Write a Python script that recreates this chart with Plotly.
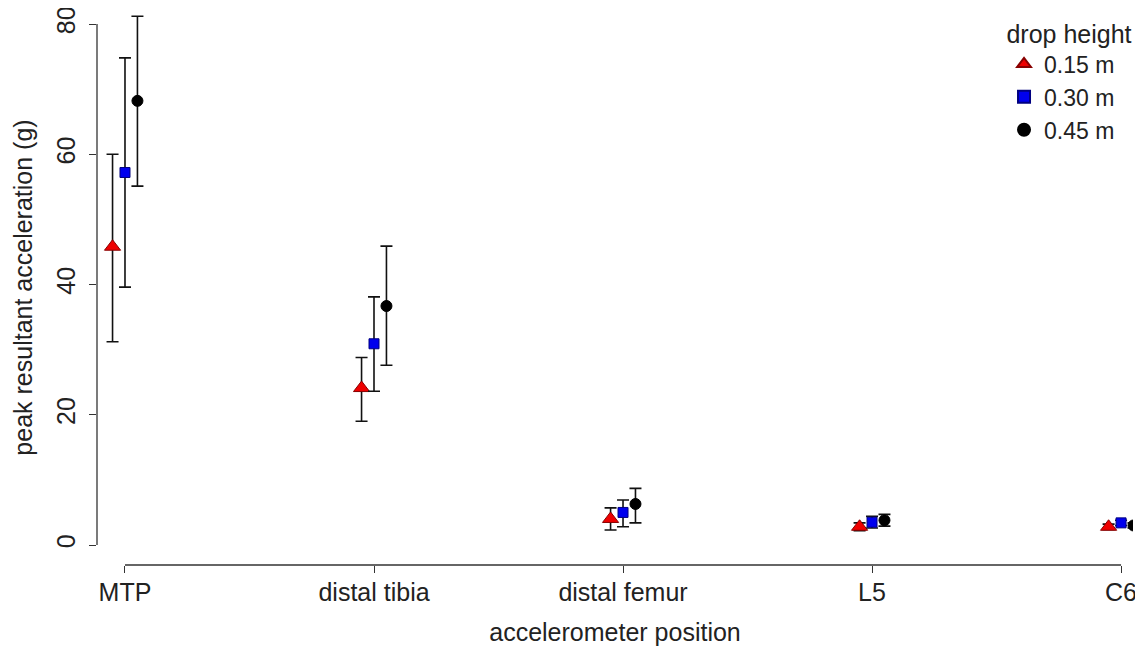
import plotly.graph_objects as go

positions = ["MTP", "distal tibia", "distal femur", "L5", "C6"]
heights = ["0.15 m", "0.30 m", "0.45 m"]

mean_015 = [45.8, 24.1, 4.0, 2.8, 2.8]
low_015 = [31.2, 19.0, 2.3, 2.2, 2.4]
high_015 = [60.0, 28.8, 5.7, 3.4, 3.2]

mean_030 = [57.2, 30.9, 5.0, 3.5, 3.4]
low_030 = [39.6, 23.6, 2.8, 2.6, 3.0]
high_030 = [74.8, 38.1, 6.9, 4.4, 3.8]

mean_045 = [68.2, 36.7, 6.3, 3.8, 3.0]
low_045 = [55.1, 27.6, 3.4, 2.9, 2.6]
high_045 = [81.2, 45.9, 8.7, 4.7, 3.4]

y_ticks = [0, 20, 40, 60, 80]

series = [
    (heights[0], mean_015, low_015, high_015, -0.05,
     dict(symbol="triangle-up", size=14, color="#ee0000", line=dict(color="#880000", width=1))),
    (heights[1], mean_030, low_030, high_030, 0.0,
     dict(symbol="square", size=10, color="#0000ee", line=dict(color="#000080", width=1))),
    (heights[2], mean_045, low_045, high_045, 0.05,
     dict(symbol="circle", size=11, color="#000000", line=dict(color="#000000", width=1))),
]

fig = go.Figure()
for name, m, lo, hi, off, mk in series:
    xs = [i + 1 + off for i in range(len(positions))]
    fig.add_trace(go.Scatter(
        x=xs, y=m, mode="markers", name=name, marker=mk,
        error_y=dict(type="data", symmetric=False,
                     array=[h - v for h, v in zip(hi, m)],
                     arrayminus=[v - l for v, l in zip(m, lo)],
                     color="#111111", thickness=1.6, width=6),
    ))

font = "Liberation Sans, Arial, Helvetica, sans-serif"
axcol = "#333333"
fs = 25

# detached R-style axis lines
fig.add_shape(type="line", xref="paper", yref="y", x0=0, x1=0, y0=0, y1=80,
              line=dict(color=axcol, width=1.3))
fig.add_shape(type="line", xref="x", yref="paper", x0=1, x1=5, y0=0, y1=0,
              line=dict(color=axcol, width=1.3))

fig.update_layout(
    width=1135, height=641,
    margin=dict(l=89, r=10, t=2, b=84, autoexpand=False),
    paper_bgcolor="white", plot_bgcolor="white",
    font=dict(family=font, size=fs, color="#222222"),
    showlegend=True,
    legend=dict(x=0.8755, xanchor="left", y=1.0, yanchor="top",
                bgcolor="rgba(0,0,0,0)",
                title=dict(text="drop height", side="top center", font=dict(size=fs)),
                font=dict(size=23), itemsizing="constant", tracegroupgap=0),
    xaxis=dict(range=[0.8876, 5.048], tickvals=[1, 2, 3, 4, 5], ticktext=positions,
               automargin=False, ticklabeloverflow="allow",
               showgrid=False, zeroline=False, showline=False,
               ticks="outside", ticklen=7, tickcolor=axcol, tickwidth=1.3,
               ticklabelstandoff=-2,
               title=dict(text="accelerometer position", standoff=18, font=dict(size=fs)),
               tickfont=dict(size=fs)),
    yaxis=dict(range=[-3.07, 82.15], tickvals=y_ticks, tickangle=-90,
               automargin=False, ticklabeloverflow="allow",
               showgrid=False, zeroline=False, showline=False,
               ticks="outside", ticklen=7, tickcolor=axcol, tickwidth=1.3,
               ticklabelstandoff=4,
               title=dict(text="peak resultant acceleration (g)", standoff=12, font=dict(size=fs)),
               tickfont=dict(size=fs)),
)

fig.write_html("out.html")
